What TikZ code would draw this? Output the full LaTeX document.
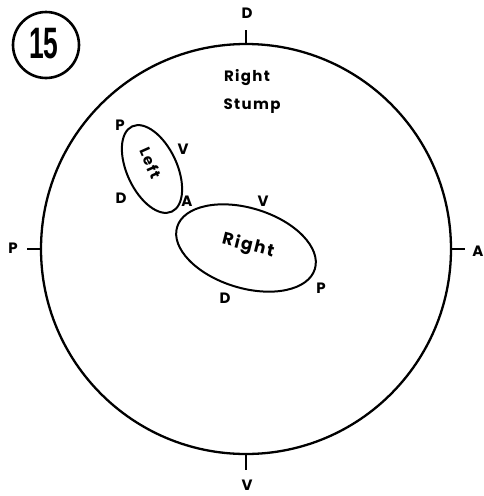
\documentclass[tikz,border=0pt]{standalone}
\usepackage{fontspec}
\setmainfont{Poppins}
\newfontfamily\numfont{Liberation Sans}
\begin{document}
\begin{tikzpicture}[x=1pt,y=-1pt,line width=2pt,
  lbl/.style={font=\fontsize{15}{17}\selectfont\bfseries\addfontfeatures{LetterSpace=9},inner sep=0pt}]
\useasboundingbox (0,0) rectangle (484,496);
% number of the figure
\draw[line width=2.6pt](46,45)circle(33pt);
\node[font=\numfont\fontsize{44}{44}\selectfont\bfseries,xscale=.6](num)at(44,44){15};
% stump and its four marks
\coordinate(c)at(246,249);
\draw[line width=2.3pt](c)circle(205pt);
\draw(c)++(0,-205)--++(0,-14);
\draw(c)++(0,205)--++(0,16);
\draw(c)++(-205,0)--++(-14,0);
\draw(c)++(205,0)--++(14,0);
\node[lbl](sD)at(247,13){D};
\node[lbl](sV)at(247,485){V};
\node[lbl](sP)at(13,248){P};
\node[lbl](sA)at(478,251){A};
\node[lbl](rt)at(247,78){Right};
\node[lbl](st)at(252,106){Stump};
% left
\draw(152,169)ellipse[x radius=47pt,y radius=25pt,rotate=-65];
\node[lbl,rotate=-66](lf)at(151,163){Left};
\node[lbl](lP)at(120,125){P};
\node[lbl](lV)at(183,149){V};
\node[lbl](lD)at(121,198){D};
\node[lbl](lA)at(187,201){A};
% right
\draw(246,248)ellipse[x radius=72pt,y radius=40pt,rotate=-17];
\node[lbl,font=\fontsize{17}{19}\selectfont\bfseries\addfontfeatures{LetterSpace=10},rotate=-14](rg)at(248,246){Right};
\node[lbl](rV)at(263,201){V};
\node[lbl](rD)at(225,298){D};
\node[lbl](rP)at(321,288){P};
\end{tikzpicture}
\end{document}
